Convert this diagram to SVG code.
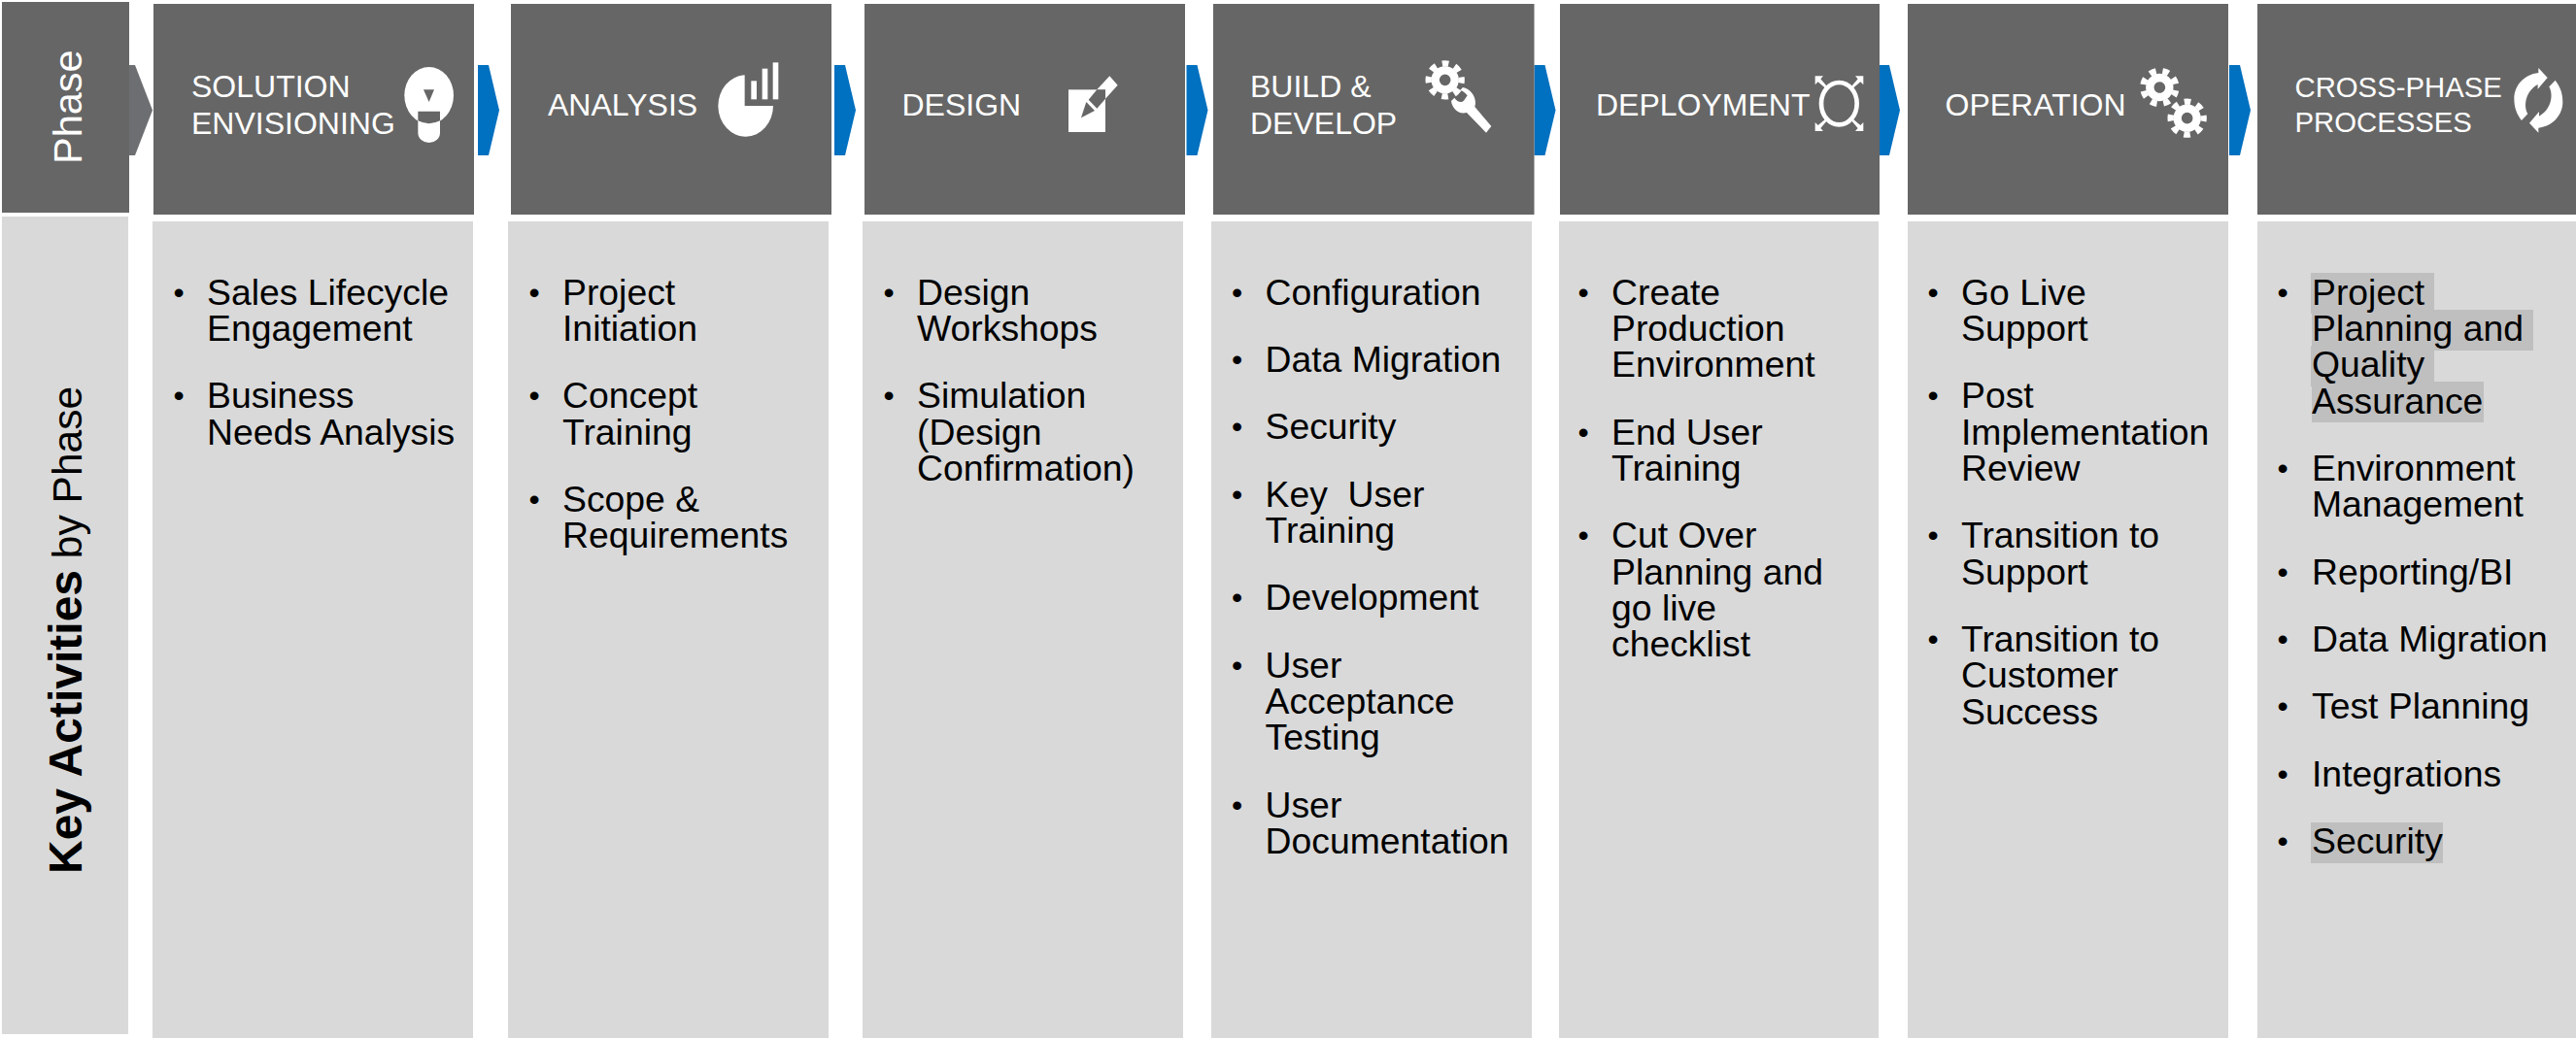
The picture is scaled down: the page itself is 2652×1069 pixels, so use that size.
<svg xmlns="http://www.w3.org/2000/svg" width="2652" height="1069" viewBox="0 0 2652 1069">
<style>
text{font-family:"Liberation Sans",Arial,sans-serif}
.h{fill:#666666}.bd{fill:#d9d9d9}.ar{fill:#0070c0}.hl{fill:#bfbfbf}
.t{font-size:32px;fill:#fff}.t2{font-size:29.3px;fill:#fff}
.b{font-size:37.33px;fill:#000}
.b .u{font-size:32px;transform:translate(1.500px,-2px)}
.w{fill:#fff}.g{fill:#666666}
</style>
<defs>
<g id="gear">
<circle r="30" fill="none" stroke="#fff" stroke-width="25"/>
<circle r="51" fill="none" stroke="#fff" stroke-width="19" pathLength="16" stroke-dasharray="1 1" stroke-dashoffset=".5"/>
</g>
<g id="corner"><path class="w" d="M0 0H25L17 9L40 36L35 40L9 18L0 27Z"/></g>
<path id="sync" class="w" d="M78 207L97 187C82 160 92 115 128 96V110L158 75L130 45V60C85 65 55 100 55 140C55 170 65 190 78 207Z"/>
</defs>
<rect width="2652" height="1069" fill="#fff"/>

<g id="connectors">
<path d="M133 67H139L157 113.500L139 160H133Z" fill="#6d6e71"/>
<path class="ar" d="M492 67H503L514 113.500L503 160H492Z"/>
<path class="ar" d="M859 67H870L881 113.500L870 160H859Z"/>
<path class="ar" d="M1221.500 67H1232.500L1243.500 113.500L1232.500 160H1221.500Z"/>
<path class="ar" d="M1579.500 67H1590.500L1601.500 113.500L1590.500 160H1579.500Z"/>
<path class="ar" d="M1935 67H1945L1956 113.500L1945 160H1935Z"/>
<path class="ar" d="M2295 67H2306L2317 113.500L2306 160H2295Z"/>
</g>

<g id="phase-label">
<rect class="h" x="2" y="2" width="131" height="217"/>
<text transform="translate(84 169) rotate(-90)" style="font-size:41.500px;fill:#fff">Phase</text>
</g>
<g id="activities-label">
<rect class="bd" x="2" y="223" width="130" height="842"/>
<text transform="translate(84 900) rotate(-90)" style="font-size:42.500px;fill:#000"><tspan style="font-size:48px;font-weight:bold">Key Activities</tspan> by Phase</text>
</g>

<g id="solution-envisioning">
<rect class="h" x="158" y="4" width="330" height="217"/>
<text class="t" x="197" y="99.500">SOLUTION</text><text class="t" x="197" y="137.500">ENVISIONING</text>
<g transform="translate(380 30) scale(.3333)">
<ellipse class="w" cx="185" cy="205" rx="76" ry="88"/>
<path class="g" d="M168 187H201L185 225Z"/>
<path class="w" d="M151 270V320A34 31 0 0 0 219 320V270Z"/>
<path class="g" d="M151 254H219V283Q185 300 151 283Z"/>
</g>
<rect class="bd" x="157" y="228" width="330" height="841"/>
<g class="b" transform="translate(1 .8)">
<text class="u" x="176" y="313">•</text><text x="212" y="313">Sales Lifecycle</text><text x="212" y="350.300">Engagement</text>
<text class="u" x="176" y="419.600">•</text><text x="212" y="419.600">Business</text><text x="212" y="457">Needs Analysis</text>
</g>
</g>

<g id="analysis">
<rect class="h" x="526" y="4" width="330" height="217"/>
<text class="t" x="564" y="118.500">ANALYSIS</text>
<g transform="translate(720 50) scale(.3333)">
<path class="w" d="M140 82V177H228A85 95 0 1 1 140 82Z"/>
<rect class="w" x="160" y="100" width="17" height="57"/>
<rect class="w" x="194" y="62" width="17" height="95"/>
<rect class="w" x="227" y="43" width="17" height="114"/>
</g>
<rect class="bd" x="523" y="228" width="330" height="841"/>
<g class="b" transform="translate(1 .8)">
<text class="u" x="542" y="313">•</text><text x="578" y="313">Project</text><text x="578" y="350.300">Initiation</text>
<text class="u" x="542" y="419.600">•</text><text x="578" y="419.600">Concept</text><text x="578" y="457">Training</text>
<text class="u" x="542" y="526.300">•</text><text x="578" y="526.300">Scope &amp;</text><text x="578" y="563.600">Requirements</text>
</g>
</g>

<g id="design">
<rect class="h" x="890" y="4" width="330" height="217"/>
<text class="t" x="928.500" y="118.500">DESIGN</text>
<g transform="translate(1080 60) scale(.3333)">
<rect class="w" x="60" y="97" width="114" height="131"/>
<path class="w" d="M148 97L187 55L212 83L174 125V97Z"/>
<path class="g" d="M148 97H174V125L148 155L122 128Z"/>
<path class="g" d="M115 135L141 162L99 184Z"/>
</g>
<rect class="bd" x="888" y="228" width="330" height="841"/>
<g class="b" transform="translate(1 .8)">
<text class="u" x="907" y="313">•</text><text x="943" y="313">Design</text><text x="943" y="350.300">Workshops</text>
<text class="u" x="907" y="419.600">•</text><text x="943" y="419.600">Simulation</text><text x="943" y="457">(Design</text><text x="943" y="494.300">Confirmation)</text>
</g>
</g>

<g id="build-develop">
<rect class="h" x="1249" y="4" width="330.500" height="217"/>
<text class="t" x="1287" y="99.500">BUILD &amp;</text><text class="t" x="1287" y="137.500">DEVELOP</text>
<g transform="translate(1420 40) scale(.3333)">
<use href="#gear" x="203" y="127"/>
<path class="w" d="M258 150C285 155 303 185 295 210L346 270L330 290L270 228C245 235 225 215 222 192L232 182C240 195 255 200 262 190L272 175C265 165 255 160 250 158Z"/>
</g>
<rect class="bd" x="1247" y="228" width="330" height="841"/>
<g class="b" transform="translate(.5 .8)">
<text class="u" x="1266" y="313">•</text><text x="1302" y="313">Configuration</text>
<text class="u" x="1266" y="382.300">•</text><text x="1302" y="382.300">Data Migration</text>
<text class="u" x="1266" y="451.600">•</text><text x="1302" y="451.600">Security</text>
<text class="u" x="1266" y="521">•</text><text x="1302" y="521" xml:space="preserve">Key  User</text><text x="1302" y="558.300">Training</text>
<text class="u" x="1266" y="627.600">•</text><text x="1302" y="627.600">Development</text>
<text class="u" x="1266" y="697">•</text><text x="1302" y="697">User</text><text x="1302" y="734.300">Acceptance</text><text x="1302" y="771.600">Testing</text>
<text class="u" x="1266" y="841">•</text><text x="1302" y="841">User</text><text x="1302" y="878.300">Documentation</text>
</g>
</g>

<g id="deployment">
<rect class="h" x="1606" y="4" width="329" height="217"/>
<text class="t" x="1643" y="118.500">DEPLOYMENT</text>
<g transform="translate(1860 60) scale(.3333)">
<ellipse cx="100" cy="140" rx="55" ry="65" fill="none" stroke="#fff" stroke-width="14"/>
<use href="#corner" transform="translate(26 55)"/>
<use href="#corner" transform="translate(175 55) scale(-1 1)"/>
<use href="#corner" transform="translate(26 225) scale(1 -1)"/>
<use href="#corner" transform="translate(175 225) scale(-1 -1)"/>
</g>
<rect class="bd" x="1605" y="228" width="329" height="841"/>
<g class="b" transform="translate(0 .8)">
<text class="u" x="1623" y="313">•</text><text x="1659" y="313">Create</text><text x="1659" y="350.300">Production</text><text x="1659" y="387.600">Environment</text>
<text class="u" x="1623" y="457">•</text><text x="1659" y="457">End User</text><text x="1659" y="494.300">Training</text>
<text class="u" x="1623" y="563.600">•</text><text x="1659" y="563.600">Cut Over</text><text x="1659" y="600.900">Planning and</text><text x="1659" y="638.200">go live</text><text x="1659" y="675.500">checklist</text>
</g>
</g>

<g id="operation">
<rect class="h" x="1964" y="4" width="330" height="217"/>
<text class="t" x="2002.500" y="118.500">OPERATION</text>
<g transform="translate(2180 40) scale(.3333)">
<use href="#gear" transform="translate(130 150) rotate(20)"/>
<use href="#gear" transform="translate(215 245)"/>
</g>
<rect class="bd" x="1964" y="228" width="330" height="841"/>
<g class="b" transform="translate(0 .8)">
<text class="u" x="1983" y="313">•</text><text x="2019" y="313">Go Live</text><text x="2019" y="350.300">Support</text>
<text class="u" x="1983" y="419.600">•</text><text x="2019" y="419.600">Post</text><text x="2019" y="457">Implementation</text><text x="2019" y="494.300">Review</text>
<text class="u" x="1983" y="563.600">•</text><text x="2019" y="563.600">Transition to</text><text x="2019" y="600.900">Support</text>
<text class="u" x="1983" y="670.200">•</text><text x="2019" y="670.200">Transition to</text><text x="2019" y="707.500">Customer</text><text x="2019" y="744.800">Success</text>
</g>
</g>

<g id="cross-phase-processes">
<rect class="h" x="2324" y="4" width="328" height="217"/>
<text class="t2" x="2362.500" y="99.500">CROSS-PHASE</text><text class="t2" x="2362.500" y="135.500">PROCESSES</text>
<g transform="translate(2570 55) scale(.3333)">
<use href="#sync"/>
<use href="#sync" transform="rotate(180 130 145)"/>
</g>
<rect class="bd" x="2324" y="228" width="328" height="841"/>
<rect class="hl" x="2379" y="281" width="127" height="42"/>
<rect class="hl" x="2380" y="319" width="228" height="42"/>
<rect class="hl" x="2379" y="356" width="127" height="42"/>
<rect class="hl" x="2380" y="393" width="177" height="42"/>
<rect class="hl" x="2379" y="847" width="136" height="42"/>
<g class="b" transform="translate(0 .8)">
<text class="u" x="2343" y="313">•</text><text x="2380" y="313">Project</text><text x="2380" y="350.300">Planning and</text><text x="2380" y="387.600">Quality</text><text x="2380" y="425">Assurance</text>
<text class="u" x="2343" y="494.300">•</text><text x="2380" y="494.300">Environment</text><text x="2380" y="531.600">Management</text>
<text class="u" x="2343" y="601">•</text><text x="2380" y="601">Reporting/BI</text>
<text class="u" x="2343" y="670.300">•</text><text x="2380" y="670.300">Data Migration</text>
<text class="u" x="2343" y="739.600">•</text><text x="2380" y="739.600">Test Planning</text>
<text class="u" x="2343" y="809">•</text><text x="2380" y="809">Integrations</text>
<text class="u" x="2343" y="878.300">•</text><text x="2380" y="878.300">Security</text>
</g>
</g>
</svg>
